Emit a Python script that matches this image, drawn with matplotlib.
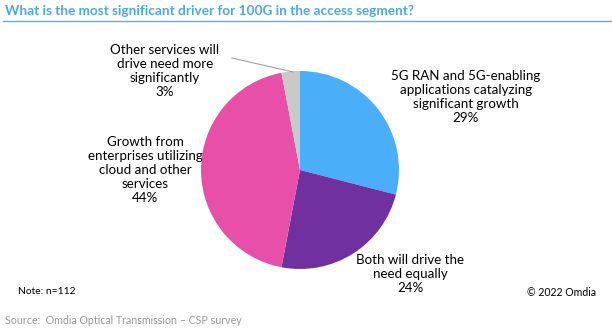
import matplotlib.pyplot as plt

plt.rcParams['font.family'] = ['Lato', 'DejaVu Sans']

labels = ['5G RAN and 5G-enabling\napplications catalyzing\nsignificant growth\n29%',
          'Both will drive the\nneed equally\n24%',
          'Growth from\nenterprises utilizing\ncloud and other\nservices\n44%',
          'Other services will\ndrive need more\nsignificantly\n3%']
shares = [29, 24, 44, 3]
colors = ['#4BAEF8', '#7030A0', '#E84FA8', '#C9C9C9']

W, H = 612, 331
fig = plt.figure(figsize=(W / 100, H / 100), dpi=100)

# pie axes: center (300,170), radius ~99 px
r = 99
cx, cy = 300, 170
ax = fig.add_axes([(cx - r) / W, 1 - (cy + r) / H, 2 * r / W, 2 * r / H])
ax.pie(shares, colors=colors, startangle=90, counterclock=False,
       wedgeprops=dict(linewidth=0))
ax.set_xlim(-1, 1)
ax.set_ylim(-1, 1)
ax.set_aspect('equal')

def px(x, y):
    return x / W, 1 - y / H

# slice labels
fs = 9.6
fig.text(*px(466, 97), labels[0], ha='center', va='center', fontsize=fs, linespacing=1.22)
fig.text(*px(410, 274), labels[1], ha='center', va='center', fontsize=fs, linespacing=1.22)
fig.text(*px(145, 170), labels[2], ha='center', va='center', fontsize=fs, linespacing=1.22)
fig.text(*px(165, 71), labels[3], ha='center', va='center', fontsize=fs, linespacing=1.22)
fig.add_artist(plt.Line2D([232 / W, 293 / W], [1 - 58 / H, 1 - 72 / H], color='#999999', lw=0.7))

# title and rule
fig.text(*px(5, 11), 'What is the most significant driver for 100G in the access segment?',
         ha='left', va='center', fontsize=9.8, fontweight='bold', color='#4DA6F0')
fig.add_artist(plt.Line2D([3 / W, 1], [1 - 21 / H, 1 - 21 / H], color='#5AAEF0', lw=1))

fig.text(*px(18, 292), 'Note: n=112', ha='left', va='center', fontsize=7.4)
fig.text(*px(596, 292), '\u00a9 2022 Omdia', ha='right', va='center', fontsize=7.6)
fig.text(*px(5, 320), 'Source:  Omdia Optical Transmission \u2013 CSP survey',
         ha='left', va='center', fontsize=7.7, color='#999999')

fig.savefig('out.png', dpi=100)
